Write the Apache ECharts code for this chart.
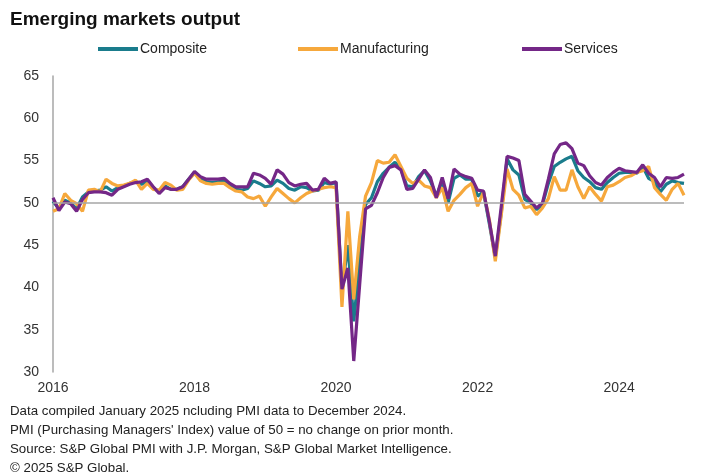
<!DOCTYPE html>
<html>
<head>
<meta charset="utf-8">
<script src="https://cdn.jsdelivr.net/npm/echarts@6/dist/echarts.min.js"></script>
<style>
html,body{margin:0;padding:0;background:#fff;}
#chart{width:720px;height:476px;}
</style>
</head>
<body>
<div id="chart"></div>
<script>
// Monthly, Jan 2016 .. Dec 2024
var years = [2016,2017,2018,2019,2020,2021,2022,2023,2024];
var months = [];
years.forEach(function(y){ for (var m=1;m<=12;m++){ months.push(y + '-' + (m<10?'0':'') + m); } });

var composite = [
 50.2,49.3,50.3,50.0,49.3,50.7,51.3,51.4,51.5,51.9,51.4,51.8,
 52.0,52.3,52.5,52.2,52.6,51.8,51.3,52.0,51.6,51.6,51.9,52.8,
 53.6,52.8,52.5,52.4,52.5,52.6,52.0,51.6,51.5,51.7,52.6,52.3,
 51.9,52.0,52.7,52.3,51.7,51.5,51.9,51.8,51.4,51.5,52.4,52.2,
 52.4,39.6,45.0,36.0,43.0,49.8,50.6,52.5,53.5,54.2,54.8,54.0,
 52.0,51.9,53.1,53.8,52.6,50.8,52.6,50.0,52.9,53.3,52.8,52.8,
 50.8,51.3,47.5,43.5,48.8,55.2,53.9,53.3,50.4,50.0,49.2,49.8,
 52.3,54.3,54.8,55.2,55.5,53.8,53.0,52.5,51.8,51.6,52.4,53.0,
 53.5,53.6,53.6,53.5,54.3,52.9,52.5,51.3,52.2,52.6,52.4,52.3
];
var manufacturing = [
 49.0,49.3,51.1,50.3,49.9,49.0,51.5,51.6,51.3,52.8,52.3,52.0,
 52.1,52.3,52.7,51.6,52.3,51.6,51.5,52.4,52.1,51.5,51.6,52.7,
 53.5,52.6,52.3,52.2,52.3,52.3,51.8,51.4,51.3,50.7,50.5,50.8,
 49.6,50.7,51.7,51.1,50.5,50.0,50.6,51.1,51.4,51.6,51.8,51.9,
 51.8,37.7,49.0,38.6,46.0,50.8,52.4,55.0,54.7,54.8,55.7,54.3,
 52.9,52.3,52.7,52.0,51.8,50.6,51.8,49.0,50.3,51.0,51.8,52.3,
 49.6,51.3,48.0,43.1,48.5,54.0,51.6,50.9,49.4,49.6,48.6,49.4,
 50.5,53.1,51.5,51.5,53.9,51.9,50.5,51.9,51.0,50.2,51.9,52.1,
 52.5,53.0,53.2,53.6,53.8,54.3,51.8,51.0,50.3,51.6,52.3,50.9
];
var services = [
 50.6,49.1,50.1,49.9,49.0,50.4,51.2,51.3,51.3,51.2,50.9,51.6,
 51.9,52.2,52.4,52.5,52.8,51.9,51.1,51.8,51.6,51.6,51.9,52.8,
 53.7,53.1,52.8,52.8,52.8,52.9,52.3,51.9,51.9,51.9,53.5,53.3,
 52.9,52.2,53.9,53.4,52.4,52.0,52.2,52.3,51.5,51.6,52.9,52.3,
 52.5,39.8,42.3,31.3,40.3,49.3,49.7,51.2,53.0,54.2,54.4,53.9,
 51.6,51.7,52.8,53.9,53.0,50.6,53.0,50.5,54.0,53.4,53.1,52.9,
 51.5,51.4,47.8,43.7,49.5,55.5,55.3,55.0,51.0,50.2,49.4,50.0,
 52.8,55.8,56.9,57.1,56.4,54.7,54.4,53.2,52.4,52.1,53.0,53.6,
 54.1,53.8,53.7,53.6,54.5,53.5,53.0,51.9,53.0,52.9,53.0,53.4
];
var seriesNames = ['Composite','Manufacturing','Services'];
var yTicks = [30,35,40,45,50,55,60,65];
var footnotes = [
 'Data compiled January 2025 ncluding PMI data to December 2024.',
 "PMI (Purchasing Managers' Index) value of 50 = no change on prior month.",
 'Source: S&P Global PMI with J.P. Morgan, S&P Global Market Intelligence.',
 '\u00a9 2025 S&P Global.'
];

var colors = ['#1a7c8c','#f6a83c','#742787'];
var font = 'Liberation Sans, Arial, sans-serif';
var chart = echarts.init(document.getElementById('chart'));

function legendAt(name, left){
  return {
    data:[name], left:left, top:37, icon:'rect', itemWidth:40, itemHeight:4, itemGap:0,
    textStyle:{fontFamily:font, fontSize:14, color:'#222', padding:[0,0,0,-3]}
  };
}

var option = {
  animation:false,
  color: colors,
  title:{ text:'Emerging markets output', left:5, top:5,
    textStyle:{fontFamily:font, fontSize:19, fontWeight:'bold', color:'#111'} },
  legend:[ legendAt('Composite',93), legendAt('Manufacturing',293), legendAt('Services',517) ],
  grid:{ left:53, right:36, top:76, bottom:104 },
  xAxis:{ type:'category', data:months, boundaryGap:false,
    axisLine:{show:false}, axisTick:{show:false},
    axisLabel:{ interval:function(i){ return i % 24 === 0; },
      formatter:function(v){ return v.slice(0,4); },
      fontFamily:font, fontSize:14, color:'#333', margin:9 } },
  yAxis:{ type:'value', min:yTicks[0], max:yTicks[yTicks.length-1], interval:5,
    axisLine:{show:true, lineStyle:{color:'#a6a6a6', width:1.5}},
    axisTick:{show:false}, splitLine:{show:false},
    axisLabel:{ fontFamily:font, fontSize:14, color:'#333', margin:14 } },
  series:[
    { name:seriesNames[0], type:'line', data:composite, symbol:'none', lineStyle:{width:3.2}, z:2,
      markLine:{ silent:true, symbol:'none', label:{show:false},
        lineStyle:{color:'#a6a6a6', width:1.5, type:'solid'}, data:[{yAxis:50}] } },
    { name:seriesNames[1], type:'line', data:manufacturing, symbol:'none', lineStyle:{width:3.2}, z:3 },
    { name:seriesNames[2], type:'line', data:services, symbol:'none', lineStyle:{width:3.2}, z:4 }
  ],
  graphic: footnotes.map(function(t, k){
    return { type:'text', left:10, top:405 + k*19,
      style:{ text:t, fontFamily:font, fontSize:13.3, fill:'#222' } };
  })
};
chart.setOption(option);
</script>
</body>
</html>
